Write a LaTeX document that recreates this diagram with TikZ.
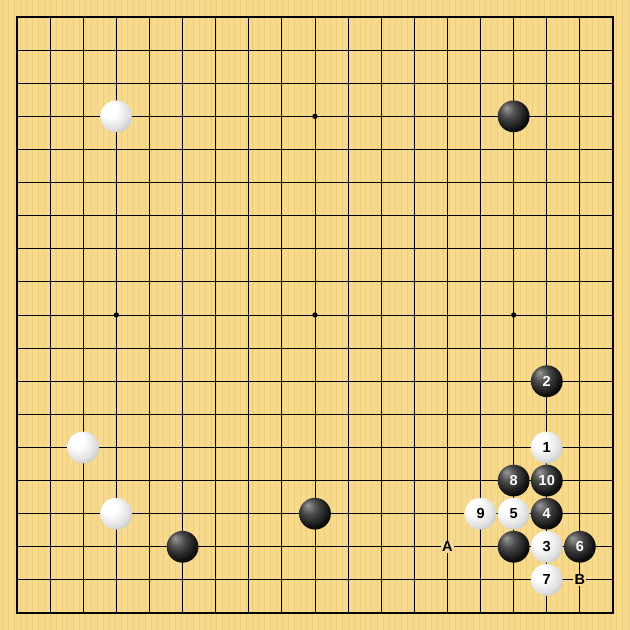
\documentclass[tikz,border=0pt]{standalone}
\usepackage{fontspec}
\setsansfont{Liberation Sans}
\definecolor{board}{RGB}{248,218,142}
\definecolor{grain}{RGB}{240,205,120}
\pgfdeclareradialshading{whiteball}{\pgfpoint{-14bp}{14bp}}{%
  color(0bp)=(white); color(12bp)=(white); color(26bp)=(black!12); color(38bp)=(black!30); color(46bp)=(black!45); color(50bp)=(black!58)}
\pgfdeclareradialshading{blackball}{\pgfpoint{-12bp}{14bp}}{%
  color(0bp)=(black!40); color(12bp)=(black!70); color(28bp)=(black!95); color(44bp)=(black); color(50bp)=(black!75)}
\tikzset{
  stone/.style={circle, minimum size=0.96cm, inner sep=0pt, font=\sffamily\bfseries\fontsize{12.5}{14}\selectfont},
  blackstone/.style={stone, shading=blackball, text=white},
  whitestone/.style={stone, shading=whiteball, text=black},
  boardmark/.style={fill=board, inner sep=1pt, font=\sffamily\bfseries\fontsize{12.5}{14}\selectfont}
}
\begin{document}
\begin{tikzpicture}[x=1cm, y=-1cm]
    \useasboundingbox (-0.5135,-0.5135) rectangle (18.5135,18.5135);
    \fill[board] (-0.5135,-0.5135) rectangle (18.5135,18.5135);
    % wood grain
    \foreach \g in {-0.45,-0.27,...,18.5}
        \draw[grain, line width=0.3pt] (\g,-0.5135) -- (\g,18.5135);

    % grid
    \foreach \i in {0,...,18} {
        \draw[black, line width=0.8pt] (\i,0) -- (\i,18);
        \draw[black, line width=0.8pt] (0,\i) -- (18,\i);
    }
    \draw[black, line width=1.2pt] (0,0) rectangle (18,18);
    \foreach \x in {3,9,15}
        \foreach \y in {3,9,15}
            \fill[black] (\x,\y) circle (0.08);

    % stones without numbers
    \node[whitestone] (w1) at (3,3) {};
    \node[blackstone] (b1) at (15,3) {};
    \node[whitestone] (w2) at (2,13) {};
    \node[whitestone] (w3) at (3,15) {};
    \node[blackstone] (b2) at (9,15) {};
    \node[blackstone] (b3) at (5,16) {};
    \node[blackstone] (b4) at (15,16) {};

    % numbered moves
    \foreach \n/\x/\y in {1/16/13, 3/16/16, 5/15/15, 7/16/17, 9/14/15}
        \node[whitestone] (m\n) at (\x,\y) {\n};
    \foreach \n/\x/\y in {2/16/11, 4/16/15, 6/17/16, 8/15/14, 10/16/14}
        \node[blackstone] (m\n) at (\x,\y) {\n};

    % marks
    \node[boardmark] (A) at (13,16) {A};
    \node[boardmark] (B) at (17,17) {B};
\end{tikzpicture}
\end{document}
